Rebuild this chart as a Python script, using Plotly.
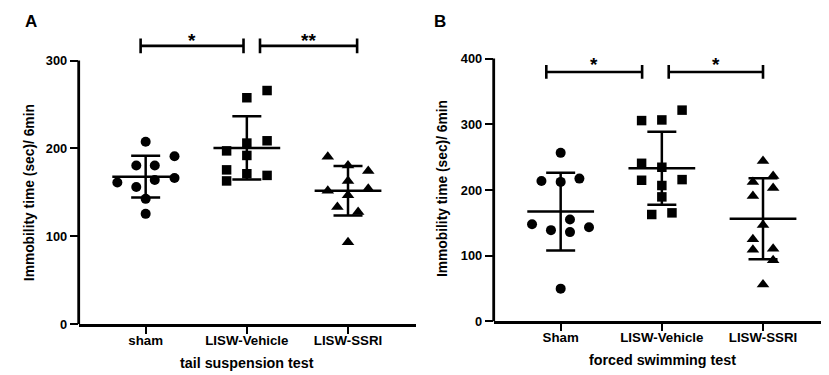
import plotly.graph_objects as go

# ---------------- data ----------------
groups_a = ["sham", "LISW-Vehicle", "LISW-SSRI"]
groups_b = ["Sham", "LISW-Vehicle", "LISW-SSRI"]

# Panel A: tail suspension test
a_sham = [207.6, 180.5, 180.5, 191.2, 161.2, 166.4, 156.0, 164.1, 142.6, 125.5]
a_sham_off = [0.0, -0.093, 0.09, 0.285, -0.28, 0.285, -0.093, 0.09, 0.0, 0.0]
a_veh = [265.9, 257.7, 206.1, 197.2, 208.7, 192.0, 175.6, 171.2, 169.3, 163.0]
a_veh_off = [0.2, 0.0, 0.0, -0.2, 0.2, 0.0, -0.2, 0.0, 0.2, -0.2]
a_ssri = [190.5, 180.5, 174.2, 163.0, 151.9, 154.1, 146.7, 133.3, 127.7, 93.2]
a_ssri_off = [-0.2, 0.0, 0.2, 0.0, -0.2, 0.2, 0.0, -0.105, 0.1, 0.0]
a_mean = [167.8, 200.5, 151.9]
a_sd = [23.8, 36.0, 28.2]

# Panel B: forced swimming test
b_sham = [256.6, 213.9, 212.4, 217.4, 155.3, 147.9, 139.0, 136.0, 143.4, 50.0]
b_sham_off = [0.0, -0.19, 0.0, 0.185, 0.092, -0.283, -0.096, 0.092, 0.28, 0.0]
b_veh = [321.6, 305.7, 306.7, 240.7, 234.7, 214.9, 215.9, 206.9, 189.6, 162.8, 165.3]
b_veh_off = [0.2, -0.2, 0.0, -0.2, 0.0, -0.2, 0.2, 0.0, 0.0, -0.1, 0.1]
b_ssri = [244.2, 212.4, 221.3, 203.0, 191.1, 146.9, 125.0, 109.2, 110.7, 93.3, 56.1]
b_ssri_off = [0.0, -0.1, 0.1, 0.1, -0.1, 0.0, -0.1, -0.1, 0.1, 0.1, 0.0]
b_mean = [167.2, 233.3, 156.3]
b_sd = [59.0, 55.5, 61.5]

a_yticks = [0, 100, 200, 300]
b_yticks = [0, 100, 200, 300, 400]

# significance brackets: (x_start, x_end, bracket y, star y, label)
a_sig = [(-0.05, 0.967, 316.7, 329.0, "*"), (1.13, 2.09, 316.7, 329.0, "**")]
b_sig = [(-0.142, 0.805, 379.7, 398.5, "*"), (1.068, 2.0, 379.7, 398.5, "*")]

# ---------------- figure ----------------
FONT = "Arial, Liberation Sans, sans-serif"
fig = go.Figure()
symbols = ["circle", "square", "triangle-up"]
sizes = [10, 9.5, 11]

def add_panel(xa, ya, pts, offs, means, sds):
    for i, (vals, off) in enumerate(zip(pts, offs)):
        fig.add_trace(go.Scatter(
            x=[i + o for o in off], y=vals, mode="markers",
            marker=dict(symbol=symbols[i], size=sizes[i], color="black"),
            xaxis=xa, yaxis=ya, showlegend=False, cliponaxis=False))
        fig.add_trace(go.Scatter(
            x=[i - 0.33, i + 0.33], y=[means[i], means[i]], mode="lines",
            line=dict(color="black", width=2.5),
            xaxis=xa, yaxis=ya, showlegend=False))
        fig.add_trace(go.Scatter(
            x=[i], y=[means[i]], mode="markers",
            marker=dict(size=1, color="rgba(0,0,0,0)"),
            error_y=dict(type="data", array=[sds[i]], visible=True,
                         color="black", thickness=2.5, width=14.5),
            xaxis=xa, yaxis=ya, showlegend=False))

add_panel("x", "y", [a_sham, a_veh, a_ssri], [a_sham_off, a_veh_off, a_ssri_off], a_mean, a_sd)
add_panel("x2", "y2", [b_sham, b_veh, b_ssri], [b_sham_off, b_veh_off, b_ssri_off], b_mean, b_sd)

shapes = []
annotations = []

def add_sig(xref, yref, sig, tick):
    for x0, x1, y, ys, lab in sig:
        shapes.append(dict(type="line", xref=xref, yref=yref, x0=x0, x1=x1, y0=y, y1=y,
                           line=dict(color="black", width=2.6)))
        for xx in (x0, x1):
            shapes.append(dict(type="line", xref=xref, yref=yref, x0=xx, x1=xx,
                               y0=y - tick, y1=y + tick, line=dict(color="black", width=2.6)))
        annotations.append(dict(xref=xref, yref=yref, x=(x0 + x1) / 2, y=ys, yshift=-5,
                                text=f"<b>{lab}</b>", showarrow=False, yanchor="middle",
                                font=dict(family=FONT, size=19, color="black")))

add_sig("x", "y", a_sig, 8.5)
add_sig("x2", "y2", b_sig, 10.5)

shapes.append(dict(type="line", xref="x domain", yref="y", x0=0, x1=0, y0=0, y1=a_yticks[-1],
                   line=dict(color="black", width=2.8)))
shapes.append(dict(type="line", xref="x2 domain", yref="y2", x0=0, x1=0, y0=0, y1=b_yticks[-1],
                   line=dict(color="black", width=2.8)))

W, H = 829, 375
a_y0pix, a_scale, a_top = 322.0, 269.3 / 300, 345
b_y0pix, b_scale, b_top = 319.3, 268.6 / 400, 410

xr = [-0.662, 2.672]
common_x = dict(range=xr, tickvals=[0, 1, 2], showline=True, linecolor="black", linewidth=2.8,
                ticks="outside", ticklen=7, tickwidth=2.3, tickcolor="black", showgrid=False,
                zeroline=False, ticklabelstandoff=-5,
                tickfont=dict(family=FONT, size=13.3, color="black"))
common_y = dict(showline=False, ticks="outside", ticklen=8, tickwidth=2.3, tickcolor="black",
                showgrid=False, zeroline=False,
                tickfont=dict(family=FONT, size=12.8, color="black"))

fig.update_layout(
    width=W, height=H, margin=dict(l=0, r=0, t=0, b=0),
    plot_bgcolor="white", paper_bgcolor="white",
    xaxis=dict(domain=[70.7 / W, 408 / W], ticktext=[f"<b>{g}</b>" for g in groups_a], anchor="y", **common_x),
    yaxis=dict(domain=[1 - a_y0pix / H, 1 - (a_y0pix - a_top * a_scale) / H], range=[0, a_top],
               tickvals=a_yticks, ticktext=[f"<b>{t}</b>" for t in a_yticks], anchor="x", **common_y),
    xaxis2=dict(domain=[485.7 / W, 823 / W], ticktext=[f"<b>{g}</b>" for g in groups_b], anchor="y2", **common_x),
    yaxis2=dict(domain=[1 - b_y0pix / H, 1 - (b_y0pix - b_top * b_scale) / H], range=[0, b_top],
                tickvals=b_yticks, ticktext=[f"<b>{t}</b>" for t in b_yticks], anchor="x2", **common_y),
    shapes=shapes,
)

tfont = dict(family=FONT, size=13.8, color="black")
xfont = dict(family=FONT, size=14.3, color="black")
annotations += [
    dict(xref="paper", yref="paper", x=21.7 / W, y=1 - 187.5 / H, text="<b>Immobility time (sec)/ 6min</b>",
         textangle=-90, showarrow=False, font=tfont, xanchor="center", yanchor="middle"),
    dict(xref="paper", yref="paper", x=238.8 / W, y=1 - 361.7 / H, text="<b>tail suspension test</b>",
         showarrow=False, font=xfont, xanchor="center", yanchor="middle"),
    dict(xref="paper", yref="paper", x=434 / W, y=1 - 184 / H, text="<b>Immobility time (sec)/ 6min</b>",
         textangle=-90, showarrow=False, font=tfont, xanchor="center", yanchor="middle"),
    dict(xref="paper", yref="paper", x=654 / W, y=1 - 358.3 / H, text="<b>forced swimming test</b>",
         showarrow=False, font=xfont, xanchor="center", yanchor="middle"),
    dict(xref="paper", yref="paper", x=22.5 / W, y=1 - 12.5 / H, text="<b>A</b>",
         showarrow=False, font=dict(family=FONT, size=17, color="black"), xanchor="center", yanchor="middle"),
    dict(xref="paper", yref="paper", x=432 / W, y=1 - 12.5 / H, text="<b>B</b>",
         showarrow=False, font=dict(family=FONT, size=17, color="black"), xanchor="center", yanchor="middle"),
]
fig.update_layout(annotations=annotations)

fig.write_html("out.html")
